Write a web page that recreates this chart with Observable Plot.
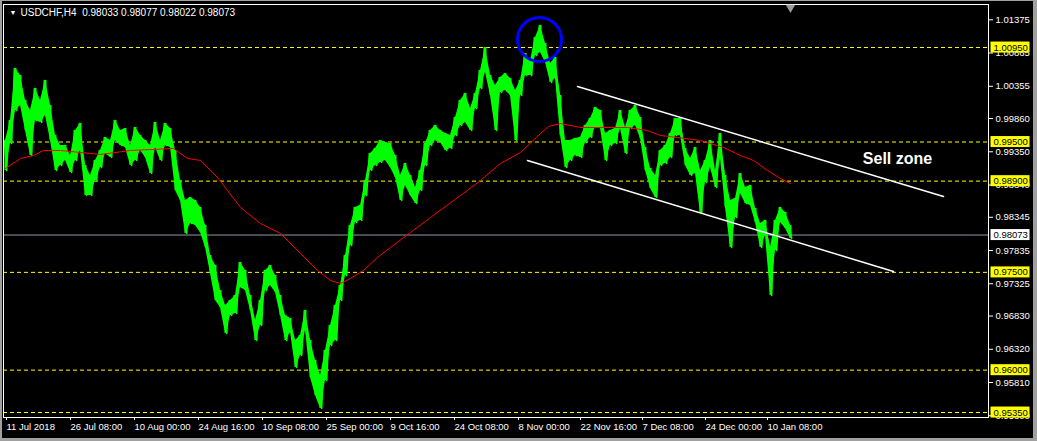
<!DOCTYPE html>
<html><head><meta charset="utf-8">
<script src="https://cdn.jsdelivr.net/npm/d3@7"></script>
<script src="https://cdn.jsdelivr.net/npm/@observablehq/plot@0.6"></script>
<style>
html,body{margin:0;padding:0;background:#000;}
#wrap{position:relative;width:1037px;height:441px;overflow:hidden;background:#000;}
#border{position:absolute;left:0;top:0;width:1037px;height:441px;box-sizing:border-box;border-left:2px solid #a0a0a0;border-top:1px solid #a0a0a0;border-right:4px solid #a0a0a0;border-bottom:3px solid #a0a0a0;pointer-events:none;}
</style></head><body><div id="wrap"><div id="border"></div></div>
<script>
const titleText = "USDCHF,H4  0.98033 0.98077 0.98022 0.98073";
const sampleStep = 5; // H4 bars between samples
const barHigh = [
0.99523, 0.99830, 1.00628, 1.00520, 1.00137, 0.99984, 1.00321, 1.00137, 1.00444, 1.00060,
0.99600, 0.99447, 0.99447, 0.99293, 0.99677, 0.99784, 0.99140, 0.98987, 0.99217, 0.99370,
0.99569, 0.99523, 0.99830, 0.99677, 0.99707, 0.99447, 0.99723, 0.99600, 0.99523, 0.99447,
0.99800, 0.99523, 0.99784, 0.99707, 0.99370, 0.98910, 0.98603, 0.98649, 0.98603, 0.98496,
0.98220, 0.97759, 0.97606, 0.97222, 0.96992, 0.97069, 0.97146, 0.97652, 0.97529, 0.97146,
0.96762, 0.97069, 0.97529, 0.97606, 0.97453, 0.97146, 0.96839, 0.96793, 0.96455, 0.96532,
0.96916, 0.96455, 0.96149, 0.95919, 0.96302, 0.96686, 0.96992, 0.97299, 0.97759, 0.98220,
0.98496, 0.98526, 0.98910, 0.99324, 0.99401, 0.99523, 0.99493, 0.99477, 0.99293, 0.98987,
0.99171, 0.98987, 0.98802, 0.99063, 0.99477, 0.99677, 0.99754, 0.99677, 0.99631, 0.99600,
0.99876, 1.00137, 1.00244, 1.00014, 1.00244, 1.00597, 1.00950, 1.00520, 1.00367, 1.00490,
1.00551, 1.00474, 1.00290, 1.00444, 1.00858, 1.00751, 1.01103, 1.01288, 1.01011, 1.00705,
1.00797, 1.00214, 0.99523, 0.99523, 0.99554, 0.99569, 0.99754, 0.99861, 1.00030, 0.99984,
0.99631, 0.99677, 0.99707, 0.99984, 0.99723, 0.99984, 1.00060, 0.99876, 0.99416, 0.99094,
0.98987, 0.99370, 0.99447, 0.99631, 0.99861, 0.99861, 0.99401, 0.99247, 0.99416, 0.99063,
0.99217, 0.99523, 0.99063, 0.99631, 0.98987, 0.98603, 0.98634, 0.99017, 0.98802, 0.98833,
0.98480, 0.98250, 0.98296, 0.97882, 0.98296, 0.98496, 0.98419, 0.98220];
const barLow = [
0.99063, 0.99477, 0.99984, 1.00060, 0.99677, 0.99293, 0.99830, 0.99800, 0.99907, 0.99523,
0.99063, 0.99140, 0.99217, 0.99033, 0.99217, 0.99370, 0.98680, 0.98680, 0.98910, 0.99109,
0.99324, 0.99263, 0.99523, 0.99447, 0.99416, 0.99140, 0.99217, 0.99370, 0.99263, 0.99017,
0.99416, 0.99217, 0.99447, 0.99416, 0.98756, 0.98603, 0.98097, 0.98250, 0.98220, 0.98112,
0.97882, 0.97483, 0.97069, 0.96962, 0.96563, 0.96839, 0.96870, 0.97268, 0.97222, 0.96916,
0.96455, 0.96686, 0.97222, 0.97299, 0.97192, 0.96839, 0.96455, 0.96578, 0.96041, 0.96225,
0.96609, 0.95888, 0.95612, 0.95412, 0.95842, 0.96379, 0.96455, 0.97069, 0.97453, 0.97913,
0.98266, 0.98296, 0.98680, 0.99063, 0.99140, 0.99186, 0.99217, 0.99109, 0.98956, 0.98603,
0.98833, 0.98680, 0.98557, 0.98756, 0.99140, 0.99447, 0.99523, 0.99493, 0.99370, 0.99401,
0.99600, 0.99754, 0.99800, 0.99677, 1.00014, 1.00321, 1.00567, 1.00214, 0.99677, 1.00260,
1.00290, 1.00214, 0.99523, 1.00214, 1.00520, 1.00520, 1.00827, 1.00873, 1.00720, 1.00413,
1.00474, 0.99600, 0.99109, 0.99217, 0.99293, 0.99263, 0.99493, 0.99569, 0.99723, 0.99707,
0.99217, 0.99447, 0.99477, 0.99707, 0.99324, 0.99707, 0.99754, 0.99554, 0.99063, 0.98787,
0.98649, 0.99140, 0.99171, 0.99263, 0.99600, 0.99600, 0.99140, 0.98987, 0.99017, 0.98404,
0.98879, 0.99109, 0.98802, 0.99247, 0.98496, 0.97882, 0.98342, 0.98710, 0.98557, 0.98526,
0.98266, 0.97882, 0.98066, 0.97146, 0.97836, 0.98266, 0.98173, 0.98020];

const maBars = [0, 15, 28, 38, 55, 75, 95, 125, 168, 182, 195, 212, 235, 255, 275, 295, 312, 325, 335, 345, 358, 372, 385, 405, 425, 455, 475, 495, 515, 535, 543, 555, 575, 622, 642, 655, 672, 695, 718, 735, 748, 762, 775, 785];
const maValues = [0.99094, 0.99247, 0.99293, 0.99370, 0.99370, 0.99339, 0.99309, 0.99370, 0.99401, 0.99247, 0.99217, 0.98956, 0.98496, 0.98250, 0.98097, 0.97790, 0.97529, 0.97376, 0.97330, 0.97406, 0.97529, 0.97729, 0.97882, 0.98112, 0.98342, 0.98680, 0.98910, 0.99171, 0.99339, 0.99631, 0.99738, 0.99784, 0.99723, 0.99723, 0.99677, 0.99600, 0.99569, 0.99523, 0.99416, 0.99293, 0.99217, 0.99063, 0.98940, 0.98864];

const levelPrices = [1.0095, 0.995, 0.989, 0.975, 0.96, 0.9535];
const currentPrice = 0.98073;
const yTickValues = [1.01375, 1.00865, 1.00355, 0.99860, 0.99350, 0.98840, 0.98345, 0.97835, 0.97325, 0.96830, 0.96320, 0.95810, 0.95300];
const xTickBars = [0, 64, 128, 192, 256, 320, 384, 448, 512, 574, 636, 699, 761];
const xTickLabels = ["11 Jul 2018","26 Jul 08:00","10 Aug 00:00","24 Aug 16:00","10 Sep 08:00","25 Sep 00:00","9 Oct 16:00","24 Oct 08:00","8 Nov 00:00","22 Nov 16:00","7 Dec 08:00","24 Dec 00:00","10 Jan 08:00"];
const upperTrendBars = [572, 938];
const upperTrendPrices = [1.00352, 0.98664];
const lowerTrendBars = [522, 888];
const lowerTrendPrices = [0.99217, 0.97514];
const circleBar = [534];
const circlePrice = [1.01073];
const noteText = ["Sell zone"];
const noteBar = [892];
const notePrice = [0.99247];
const shiftBar = [785];

const bars = barHigh.map((h, i) => ({bar: i * sampleStep, high: h, low: barLow[i]}));
// jagged path through each sample's high and low, giving the bar texture
const zigzag = bars.flatMap(d => [{bar: d.bar - 1.2, price: d.high}, {bar: d.bar + 1.2, price: d.low}]);
const ma = maBars.map((b, i) => ({bar: b, value: maValues[i]}));
const upper = upperTrendBars.map((b, i) => ({bar: b, price: upperTrendPrices[i]}));
const lower = lowerTrendBars.map((b, i) => ({bar: b, price: lowerTrendPrices[i]}));
const circle = circleBar.map((b, i) => ({bar: b, price: circlePrice[i]}));
const note = noteText.map((t, i) => ({text: t, bar: noteBar[i], price: notePrice[i]}));

const FONT = "Liberation Sans, Arial, sans-serif";
const GREEN = "#00ff00";

const chart = Plot.plot({
  width: 1037, height: 441,
  marginLeft: 3, marginRight: 49, marginTop: 4, marginBottom: 24,
  style: {background: "#000", color: "#fff", fontFamily: FONT, fontSize: "9.5px"},
  x: {domain: [-2, 983]},
  y: {domain: [0.952734, 1.016097]},
  marks: [
    Plot.ruleY(levelPrices, {stroke: "#ffff00", strokeDasharray: "4,3", strokeWidth: 1}),
    Plot.ruleY([currentPrice], {stroke: "#8c9aa8", strokeWidth: 1}),
    Plot.areaY(bars, {x: "bar", y1: "low", y2: "high", fill: GREEN}),
    Plot.ruleX(bars, {x: "bar", y1: "low", y2: "high", stroke: GREEN, strokeWidth: 2}),
    Plot.line(zigzag, {x: "bar", y: "price", stroke: GREEN, strokeWidth: 1.5}),
    Plot.line(ma, {x: "bar", y: "value", stroke: "#ff0000", strokeWidth: 1}),
    Plot.line(upper, {x: "bar", y: "price", stroke: "#ffffff", strokeWidth: 1.5}),
    Plot.line(lower, {x: "bar", y: "price", stroke: "#ffffff", strokeWidth: 1.5}),
    Plot.dot(circle, {x: "bar", y: "price", r: 22, stroke: "#0000ff", strokeWidth: 3, fill: "none"}),
    Plot.text(note, {x: "bar", y: "price", text: "text", fill: "#fff", fontSize: 16, fontWeight: "bold", fontFamily: FONT}),
    Plot.frame({stroke: "#fff"}),
    Plot.axisY({anchor: "right", ticks: yTickValues, tickFormat: d => d.toFixed(5), tickSize: 4, tickPadding: 3, stroke: "#fff", fill: "#fff", fontSize: 9.5, label: null}),
    Plot.axisX({ticks: xTickBars, tickFormat: d => xTickLabels[xTickBars.indexOf(d)], textAnchor: "start", tickSize: 3, tickPadding: 3, dx: 1, stroke: "#fff", fill: "#fff", fontSize: 9.5, label: null}),
    Plot.text(levelPrices, {y: d => d, text: d => d.toFixed(5), frameAnchor: "right", textAnchor: "start", dx: 5, fill: "#000", fontSize: 9.5, className: "lvl-label"}),
    Plot.text([currentPrice], {y: d => d, text: d => d.toFixed(5), frameAnchor: "right", textAnchor: "start", dx: 5, fill: "#000", fontSize: 9.5, className: "cur-label"}),
    Plot.text([titleText], {frameAnchor: "top-left", textAnchor: "start", lineAnchor: "middle", dx: 17, dy: 8, fill: "#fff", fontSize: 10}),
    Plot.text(["▼"], {frameAnchor: "top-left", textAnchor: "start", lineAnchor: "middle", dx: 6, dy: 8, fill: "#fff", fontSize: 7}),
    Plot.dot(shiftBar, {x: d => d, frameAnchor: "top", symbol: "triangle", rotate: 180, r: 3.5, dy: 3, fill: "#9a9a9a", stroke: "none"})
  ]
});

document.getElementById("wrap").insertBefore(chart, document.getElementById("border"));

function addBackgrounds(cls, color) {
  chart.querySelectorAll("." + cls + " text").forEach(t => {
    const b = t.getBBox();
    const r = document.createElementNS("http://www.w3.org/2000/svg", "rect");
    r.setAttribute("x", b.x - 3);
    r.setAttribute("y", b.y);
    r.setAttribute("width", 39);
    r.setAttribute("height", b.height);
    r.setAttribute("fill", color);
    const tr = t.getAttribute("transform");
    if (tr) r.setAttribute("transform", tr);
    t.parentNode.insertBefore(r, t);
  });
}
addBackgrounds("lvl-label", "#ffff00");
addBackgrounds("cur-label", "#ffffff");
</script>
</body></html>
